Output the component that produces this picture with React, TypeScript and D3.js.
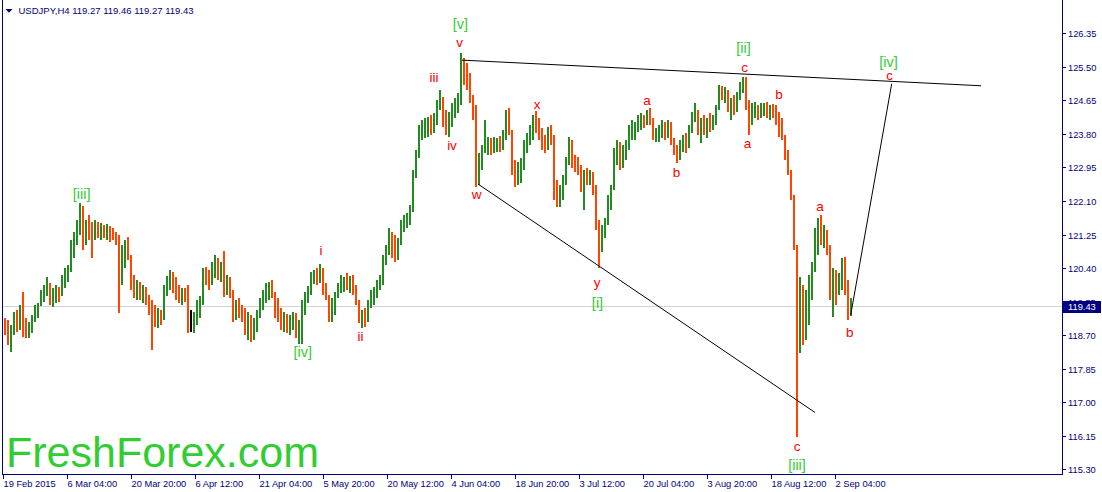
import React from 'react';
import * as d3 from 'd3';

// ---- data (USDJPY H4, each drawn candle aggregates 3 H4 bars) ----
const FIRST_OPEN = 119.04;
const BAR_SPAN = 3;

const HIGH = [
  119.14, 119.09, 118.96, 119.29, 119.34, 119.46, 119.79, 119.14, 119.04, 119.21,
  119.46, 119.51, 119.84, 119.97, 120.18, 120.02, 119.89, 119.97, 119.92, 120.23,
  120.40, 120.48, 121.11, 121.32, 121.62, 122.05, 121.97, 121.62, 121.74, 121.57,
  121.62, 121.57, 121.54, 121.49, 121.52, 121.47, 121.42, 121.32, 121.24, 120.99,
  121.11, 121.19, 120.74, 120.23, 120.10, 120.05, 119.97, 119.92, 119.72, 119.59,
  119.46, 119.39, 119.34, 119.97, 120.20, 120.35, 120.30, 120.18, 119.97, 119.89,
  119.89, 119.97, 119.34, 119.29, 119.59, 119.69, 120.40, 120.43, 120.35, 120.56,
  120.74, 120.66, 120.56, 120.84, 120.23, 120.18, 119.84, 119.59, 119.64, 119.46,
  119.39, 119.29, 119.21, 119.14, 119.34, 119.64, 119.84, 120.02, 120.05, 120.10,
  119.79, 119.64, 119.39, 119.29, 119.24, 119.21, 119.29, 119.26, 119.09, 119.59,
  119.79, 119.94, 120.30, 120.35, 120.40, 120.51, 120.40, 120.02, 119.72, 119.64,
  119.79, 120.02, 120.23, 120.18, 120.28, 120.20, 120.23, 119.97, 119.46, 119.34,
  119.39, 119.59, 119.84, 119.92, 120.10, 120.23, 120.74, 120.99, 121.42, 121.32,
  121.24, 121.16, 121.62, 121.74, 121.80, 122.00, 122.89, 123.39, 124.03, 124.15,
  124.20, 124.23, 124.28, 124.33, 124.66, 124.91, 124.73, 124.41, 124.36, 124.58,
  124.71, 124.83, 125.85, 125.72, 125.60, 125.34, 124.78, 124.53, 123.32, 123.52,
  124.15, 123.72, 123.70, 123.72, 123.70, 123.75, 123.90, 124.41, 124.46, 123.90,
  123.14, 123.09, 123.19, 123.65, 123.82, 124.03, 124.28, 124.38, 124.20, 123.95,
  123.77, 123.97, 124.03, 123.39, 122.63, 122.51, 122.76, 123.21, 123.72, 123.65,
  123.27, 123.21, 123.01, 122.89, 122.94, 122.89, 122.84, 122.51, 121.62, 121.49,
  121.67, 122.25, 122.51, 123.44, 123.65, 123.60, 123.52, 123.65, 124.03, 124.15,
  124.10, 124.28, 124.33, 124.28, 124.41, 124.46, 124.20, 123.95, 124.03, 124.15,
  124.10, 124.15, 124.10, 123.70, 123.52, 123.65, 123.77, 123.82, 124.03, 124.36,
  124.58, 124.41, 124.20, 124.28, 124.20, 124.33, 124.28, 124.53, 125.04, 125.01,
  124.99, 124.91, 124.71, 124.78, 124.86, 125.11, 125.24, 125.24, 124.66, 124.58,
  124.61, 124.53, 124.58, 124.58, 124.61, 124.53, 124.56, 124.53, 124.36, 124.20,
  123.77, 123.39, 122.89, 122.25, 120.99, 120.18, 119.97, 119.84, 120.23, 120.56,
  121.42, 121.67, 121.74, 121.49, 121.37, 120.99, 120.40, 120.35, 120.28, 120.66,
  120.68, 120.10, 119.64,
];

const LOW = [
  118.70, 118.45, 118.28, 118.70, 118.78, 118.83, 118.65, 118.63, 118.63, 118.75,
  119.04, 119.14, 119.44, 119.54, 119.69, 119.46, 119.41, 119.51, 119.54, 119.69,
  119.89, 120.05, 120.30, 120.66, 120.99, 121.24, 120.86, 120.99, 121.11, 120.66,
  121.11, 121.16, 121.11, 121.16, 121.11, 121.06, 121.11, 120.99, 119.26, 119.97,
  120.40, 120.61, 119.84, 119.64, 119.59, 119.59, 119.51, 119.46, 119.21, 118.33,
  118.91, 118.88, 118.96, 119.09, 119.69, 119.84, 119.77, 119.59, 119.51, 119.46,
  119.54, 118.75, 118.78, 118.75, 118.96, 119.14, 119.46, 119.97, 119.84, 119.97,
  120.15, 120.10, 120.05, 119.67, 119.72, 119.64, 119.04, 119.09, 119.14, 119.04,
  118.70, 118.58, 118.53, 118.58, 118.78, 119.14, 119.34, 119.51, 119.59, 119.64,
  119.14, 119.04, 118.83, 118.78, 118.75, 118.70, 118.83, 118.63, 118.48, 118.48,
  119.21, 119.51, 119.72, 120.00, 119.97, 120.02, 119.72, 119.59, 119.04, 119.04,
  119.21, 119.64, 119.77, 119.79, 119.84, 119.77, 119.72, 119.46, 119.01, 118.88,
  118.91, 119.04, 119.39, 119.46, 119.64, 119.84, 119.97, 120.48, 120.74, 120.66,
  120.56, 120.61, 120.99, 121.32, 121.42, 121.49, 121.82, 122.68, 123.19, 123.65,
  123.70, 123.72, 123.77, 123.82, 124.03, 124.41, 123.97, 123.77, 123.72, 123.97,
  124.20, 124.33, 124.53, 125.04, 124.91, 124.58, 124.15, 122.46, 122.51, 122.89,
  123.32, 123.27, 123.27, 123.32, 123.34, 123.34, 123.39, 123.65, 123.77, 122.76,
  122.46, 122.51, 122.56, 122.89, 123.32, 123.52, 123.65, 123.82, 123.65, 123.39,
  123.32, 123.39, 123.52, 122.13, 121.95, 121.95, 122.13, 122.51, 123.01, 122.94,
  122.84, 122.76, 122.33, 121.87, 122.51, 122.51, 122.25, 121.37, 120.40, 120.81,
  121.16, 121.49, 121.87, 122.38, 123.01, 122.89, 122.94, 123.14, 123.39, 123.65,
  123.65, 123.85, 123.90, 123.95, 124.03, 124.03, 123.65, 123.60, 123.60, 123.70,
  123.65, 123.70, 123.52, 123.27, 123.06, 123.14, 123.34, 123.32, 123.44, 123.82,
  124.10, 123.77, 123.57, 123.77, 123.70, 123.85, 123.90, 124.03, 124.53, 124.66,
  124.58, 124.36, 124.15, 124.28, 124.36, 124.66, 124.84, 124.41, 123.77, 124.03,
  124.20, 124.15, 124.20, 124.25, 124.20, 124.15, 124.20, 124.03, 123.72, 123.65,
  123.14, 122.76, 122.13, 120.86, 116.12, 118.25, 118.45, 118.58, 118.96, 119.59,
  120.30, 120.74, 120.99, 120.91, 120.74, 119.59, 119.16, 119.46, 119.72, 119.84,
  119.72, 119.09, 119.18,
];

const CLOSE = [
  118.83, 118.63, 118.83, 119.14, 118.96, 119.29, 118.83, 118.70, 118.96, 119.09,
  119.34, 119.44, 119.72, 119.84, 119.92, 119.59, 119.69, 119.84, 119.77, 120.10,
  120.30, 120.35, 120.99, 121.11, 121.42, 121.87, 121.11, 121.49, 121.37, 121.24,
  121.42, 121.32, 121.42, 121.27, 121.37, 121.32, 121.21, 121.11, 120.35, 120.61,
  120.91, 120.74, 120.05, 119.84, 119.97, 119.74, 119.84, 119.59, 119.46, 119.21,
  119.09, 119.21, 119.14, 119.84, 120.02, 120.10, 119.89, 119.84, 119.69, 119.79,
  119.59, 118.96, 118.96, 119.14, 119.46, 119.59, 120.30, 120.15, 120.05, 120.40,
  120.56, 120.30, 120.40, 119.97, 120.10, 119.79, 119.34, 119.46, 119.29, 119.21,
  118.96, 119.14, 118.70, 118.96, 119.21, 119.54, 119.72, 119.79, 119.94, 119.74,
  119.34, 119.21, 118.96, 119.14, 118.88, 119.04, 119.09, 118.83, 118.96, 119.46,
  119.64, 119.84, 120.15, 120.23, 120.10, 120.35, 119.84, 119.72, 119.29, 119.46,
  119.69, 119.89, 119.97, 120.10, 119.94, 120.05, 119.84, 119.59, 119.14, 119.21,
  119.09, 119.46, 119.72, 119.84, 120.02, 120.10, 120.61, 120.86, 121.24, 120.99,
  120.74, 121.06, 121.49, 121.57, 121.67, 121.87, 122.76, 123.27, 123.77, 123.90,
  123.95, 124.03, 123.90, 124.20, 124.53, 124.66, 124.15, 124.03, 124.20, 124.41,
  124.53, 124.66, 125.55, 125.42, 125.17, 124.71, 124.36, 122.89, 123.14, 123.39,
  123.52, 123.60, 123.44, 123.52, 123.65, 123.44, 123.77, 124.20, 123.90, 122.94,
  122.76, 122.89, 123.01, 123.52, 123.65, 123.90, 124.10, 124.03, 123.77, 123.65,
  123.44, 123.90, 123.77, 122.51, 122.25, 122.38, 122.63, 123.01, 123.52, 123.14,
  123.09, 122.94, 122.63, 122.76, 122.68, 122.84, 122.38, 121.49, 120.99, 121.32,
  121.49, 122.13, 122.38, 123.27, 123.44, 123.14, 123.39, 123.52, 123.90, 123.95,
  124.03, 124.15, 124.20, 124.15, 124.28, 124.10, 123.77, 123.85, 123.90, 124.03,
  123.77, 124.03, 123.65, 123.39, 123.27, 123.52, 123.65, 123.52, 123.90, 124.28,
  124.41, 123.95, 124.03, 123.90, 124.10, 123.95, 124.15, 124.41, 124.86, 124.78,
  124.86, 124.46, 124.53, 124.41, 124.71, 124.96, 125.11, 124.53, 124.28, 124.41,
  124.46, 124.36, 124.41, 124.46, 124.28, 124.41, 124.36, 124.15, 123.90, 123.77,
  123.27, 122.89, 122.25, 120.99, 118.83, 119.59, 119.09, 119.59, 119.97, 120.40,
  121.24, 121.49, 121.24, 121.32, 120.86, 119.84, 120.10, 120.05, 120.15, 120.48,
  119.97, 119.29, 119.43,
];

const X_TICK_LABELS = [
  '19 Feb 2015', '6 Mar 04:00', '20 Mar 20:00', '6 Apr 12:00', '21 Apr 04:00',
  '5 May 20:00', '20 May 12:00', '4 Jun 04:00', '18 Jun 20:00', '3 Jul 12:00',
  '20 Jul 04:00', '3 Aug 20:00', '18 Aug 12:00', '2 Sep 04:00',
];
const X_TICK_STEP = 64; // H4 bars between time labels

const Y_TICKS = [
  126.35, 125.5, 124.65, 123.8, 122.95, 122.1, 121.25, 120.4, 119.55,
  118.7, 117.85, 117.0, 116.15, 115.3,
];

const CURRENT_PRICE = 119.43;
const TITLE = 'USDJPY,H4  119.27 119.46 119.27 119.43';
const WATERMARK = 'FreshForex.com';

// trend lines: [bar index, price] -> [bar index, price]
const TREND_START_T = [459, 475, 847.7];
const TREND_START_P = [125.67, 122.53, 119.21];
const TREND_END_T = [978, 812, 888.7];
const TREND_END_P = [125.02, 116.74, 125.07];

// wave labels (baseline anchored)
const MAJOR_TEXT = ['[iii]', '[iv]', '[v]', '[i]', '[ii]', '[iii]', '[iv]'];
const MAJOR_T = [78.7, 299.8, 457.5, 594.5, 740.5, 794, 885.5];
const MAJOR_P = [122.14, 118.15, 126.47, 119.4, 125.85, 115.28, 125.5];

const MINOR_TEXT = ['i', 'ii', 'iii', 'iv', 'v', 'w', 'x', 'y', 'a', 'b', 'c', 'a', 'b', 'c', 'a', 'b', 'c'];
const MINOR_T = [318, 357.5, 431, 449, 456.5, 473.5, 534, 594, 644, 673.5, 741.5, 744.5, 776, 794, 817, 846.7, 886.7];
const MINOR_P = [120.73, 118.54, 125.12, 123.39, 126.01, 122.14, 124.43, 119.92, 124.53, 122.72, 125.36, 123.44, 124.68, 115.77, 121.85, 118.66, 125.17];

// ---- styling ----
const W = 1102;
const H = 492;
const NAVY = '#000080';
const UP = '#228B22';
const DOWN = '#FF4500';
const AXIS_FONT = "Tahoma, 'Liberation Sans', Arial, sans-serif";
const LEFT = 2.5;
const RIGHT = 1062.5;
const BOTTOM = 474.5;

export default function App() {
  const x = d3.scaleLinear().domain([0, 1060]).range([3, 1063]);
  const y = d3.scaleLinear().domain([115.3, 126.35]).range([469.3, 33.3]);

  const candles = CLOSE.map((c, i) => {
    const o = i === 0 ? FIRST_OPEN : CLOSE[i - 1];
    const hi = Math.max(HIGH[i], o, c);
    const lo = Math.min(LOW[i], o, c);
    const color = c > o ? UP : c < o ? DOWN : '#000';
    const x0 = x(i * BAR_SPAN);
    return { x0, y1: y(hi), y2: y(lo), color };
  });

  const priceY = Math.round(y(CURRENT_PRICE)) + 0.5;
  const line = d3.line<[number, number]>().x((d) => x(d[0])).y((d) => y(d[1]));

  return (
    <svg
      width={W}
      height={H}
      style={{ position: 'absolute', left: 0, top: 0, background: '#fff' }}
      xmlns="http://www.w3.org/2000/svg"
    >
      <rect x={0} y={0} width={W} height={H} fill="#fff" />

      {/* watermark */}
      <text x={6} y={467} fontFamily="'Liberation Sans', Arial, sans-serif" fontSize={43} fill="#32CD32">
        {WATERMARK}
      </text>

      {/* current price line */}
      <line x1={LEFT} x2={RIGHT} y1={priceY} y2={priceY} stroke="#d3d3d3" strokeWidth={1} />

      {/* candles: thin high-low bars */}
      <g shapeRendering="crispEdges">
        {candles.map((d, i) => (
          <rect key={i} x={d.x0 + 0.5} y={d.y1} width={2} height={Math.max(1, d.y2 - d.y1)} fill={d.color} />
        ))}
      </g>

      {/* trend lines */}
      <g fill="none" stroke="#000" strokeWidth={1}>
        {TREND_START_T.map((t, i) => (
          <path
            key={i}
            d={line([
              [t, TREND_START_P[i]],
              [TREND_END_T[i], TREND_END_P[i]],
            ]) as string}
          />
        ))}
      </g>

      {/* wave labels */}
      <g fontFamily="'Liberation Sans', Arial, sans-serif" textAnchor="middle">
        {MAJOR_TEXT.map((s, i) => (
          <text key={'M' + i} x={x(MAJOR_T[i])} y={y(MAJOR_P[i])} fontSize={14.5} fill="#33CC33">
            {s}
          </text>
        ))}
        {MINOR_TEXT.map((s, i) => (
          <text key={'m' + i} x={x(MINOR_T[i])} y={y(MINOR_P[i])} fontSize={13.5} fill="#FF0000">
            {s}
          </text>
        ))}
      </g>

      {/* frame */}
      <path d={`M${LEFT},0V${BOTTOM}H${RIGHT}V0`} fill="none" stroke={NAVY} strokeWidth={1} shapeRendering="crispEdges" />

      {/* y axis */}
      <g fontFamily={AXIS_FONT} fontSize={9.3} fill={NAVY}>
        {Y_TICKS.map((v) => {
          const ty = Math.round(y(v)) + 0.5;
          return (
            <g key={v}>
              <line x1={RIGHT} x2={RIGHT + 3} y1={ty} y2={ty} stroke={NAVY} shapeRendering="crispEdges" />
              <text x={1068} y={ty + 3.5}>
                {v.toFixed(2)}
              </text>
            </g>
          );
        })}
      </g>

      {/* current price box (covers the neighbouring tick label as in the terminal) */}
      <rect x={1063} y={priceY - 5.5} width={38} height={12} fill={NAVY} />
      <text x={1068} y={priceY + 3.8} fontFamily={AXIS_FONT} fontSize={9.3} fill="#fff">
        {CURRENT_PRICE.toFixed(2)}
      </text>

      {/* x axis */}
      <g fontFamily={AXIS_FONT} fontSize={9.3} fill={NAVY}>
        {X_TICK_LABELS.map((s, k) => {
          const tx = Math.round(x(k * X_TICK_STEP)) + 0.5;
          return (
            <g key={s}>
              <line x1={tx} x2={tx} y1={BOTTOM} y2={BOTTOM + 4} stroke={NAVY} shapeRendering="crispEdges" />
              <text x={tx} y={486.5}>
                {s}
              </text>
            </g>
          );
        })}
      </g>

      {/* title */}
      <path d="M5.5,9H12.5L9,12.8Z" fill={NAVY} />
      <text x={18.5} y={14.3} fontFamily={AXIS_FONT} fontSize={9.5} fill={NAVY}>
        {TITLE}
      </text>
    </svg>
  );
}
